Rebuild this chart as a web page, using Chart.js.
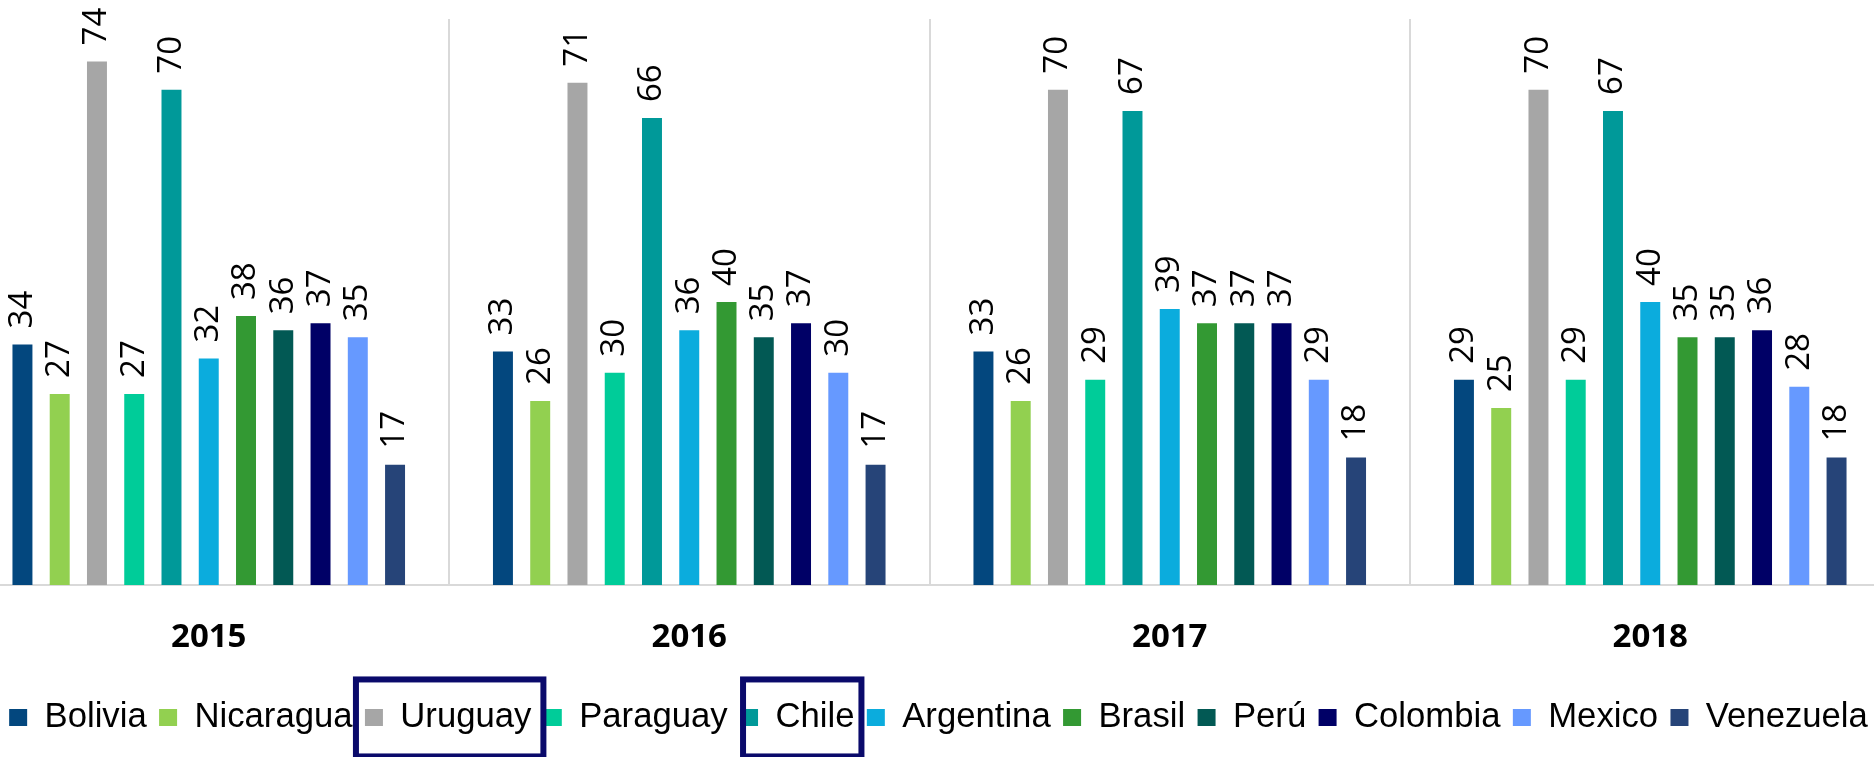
<!DOCTYPE html>
<html>
<head>
<meta charset="utf-8">
<script src="https://cdn.jsdelivr.net/npm/chart.js@4.4.1/dist/chart.umd.min.js"></script>
<style>
  html, body { margin: 0; padding: 0; background: #ffffff; overflow: hidden; }
  #wrap { position: absolute; left: -32px; top: 0; width: 1941px; height: 757px; }
</style>
</head>
<body>
<div id="wrap"><canvas id="c" width="1941" height="757"></canvas></div>
<script>
// ---- data ----
const categories = ['2015', '2016', '2017', '2018'];
const bolivia   = [34, 33, 33, 29];
const nicaragua = [27, 26, 26, 25];
const uruguay   = [74, 71, 70, 70];
const paraguay  = [27, 30, 29, 29];
const chile     = [70, 66, 67, 67];
const argentina = [32, 36, 39, 40];
const brasil    = [38, 40, 37, 35];
const peru      = [36, 35, 37, 35];
const colombia  = [37, 37, 37, 36];
const mexico    = [35, 30, 29, 28];
const venezuela = [17, 17, 18, 18];
const yMax = 80;

const seriesNames  = ['Bolivia', 'Nicaragua', 'Uruguay', 'Paraguay', 'Chile', 'Argentina', 'Brasil', 'Perú', 'Colombia', 'Mexico', 'Venezuela'];
const seriesValues = [bolivia, nicaragua, uruguay, paraguay, chile, argentina, brasil, peru, colombia, mexico, venezuela];
const seriesColors = ['#03477e', '#92d050', '#a6a6a6', '#00cc99', '#009999', '#0bacdd', '#339933', '#025954', '#000066', '#6699ff', '#264478'];
const highlighted  = [{ name: 'Uruguay', left: 12, right: 15 }, { name: 'Chile', left: 0, right: 10 }];

const datasets = seriesNames.map((n, i) => ({
  label: n,
  data: seriesValues[i],
  backgroundColor: seriesColors[i],
  borderWidth: 0,
  categoryPercentage: 0.853,
  barPercentage: 0.536
}));

const valueLabels = {
  id: 'valueLabels',
  afterDatasetsDraw(chart) {
    const ctx = chart.ctx;
    ctx.save();
    ctx.font = '33px "Open Sans"';
    ctx.fillStyle = '#000000';
    ctx.textAlign = 'left';
    ctx.textBaseline = 'middle';
    chart.data.datasets.forEach((ds, di) => {
      const meta = chart.getDatasetMeta(di);
      meta.data.forEach((el, i) => {
        ctx.save();
        ctx.translate(el.x, el.y - 16);
        ctx.rotate(-Math.PI / 2);
        ctx.fillText(String(ds.data[i]), 0, 0);
        ctx.restore();
      });
    });
    ctx.restore();
  }
};

const legendHighlight = {
  id: 'legendHighlight',
  afterDraw(chart) {
    const lg = chart.legend;
    if (!lg || !lg.legendHitBoxes) return;
    const ctx = chart.ctx;
    ctx.save();
    ctx.strokeStyle = '#0a0a6b';
    ctx.lineWidth = 6;
    highlighted.forEach(h => {
      const idx = seriesNames.indexOf(h.name);
      const hb = lg.legendHitBoxes[idx];
      if (!hb) return;
      const cy = hb.top + hb.height / 2;
      const x0 = hb.left - h.left + 3;
      const x1 = hb.left + hb.width + h.right - 3;
      ctx.strokeRect(x0, cy - 38, x1 - x0, 77);
    });
    ctx.restore();
  }
};

new Chart(document.getElementById('c'), {
  type: 'bar',
  data: { labels: categories, datasets },
  options: {
    responsive: false,
    animation: false,
    layout: { padding: { left: 0.5, right: 0.5, top: 19, bottom: 12.2 } },
    plugins: {
      tooltip: { enabled: false },
      legend: {
        position: 'bottom',
        labels: {
          font: { family: '"Liberation Sans", Arial, sans-serif', size: 34.7 },
          color: '#000000',
          boxWidth: 18,
          boxHeight: 17,
          padding: 12.4
        }
      }
    },
    scales: {
      x: {
        grid: { display: true, offset: true, color: '#d9d9d9', lineWidth: 2, drawTicks: false },
        border: { display: true, color: '#d9d9d9', width: 2 },
        ticks: {
          font: { family: '"Open Sans", sans-serif', size: 33, weight: 'bold' },
          color: '#000000',
          padding: 33
        },
        afterFit(scale) { scale.height = 102.8; }
      },
      y: {
        position: 'right',
        min: 0,
        max: yMax,
        grid: { display: false },
        border: { display: false },
        ticks: { display: false },
        afterFit(scale) { scale.width = 18; }
      }
    }
  },
  plugins: [valueLabels, legendHighlight]
});
</script>
</body>
</html>
